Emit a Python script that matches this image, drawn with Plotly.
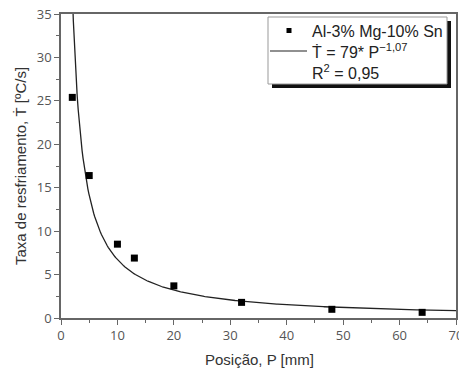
import numpy as np
import plotly.graph_objects as go

# Measured data
posicao = [2, 5, 10, 13, 20, 32, 48, 64]
taxa = [25.4, 16.4, 8.5, 6.9, 3.7, 1.8, 1.0, 0.65]

# Fit parameters shown in the legend
fit_a = 79
fit_b = -1.07
fit_p = np.linspace(1.5, 70, 400)
fit_t = fit_a * fit_p ** fit_b

legend_labels = ["Al-3% Mg-10% Sn", "Ṫ = 79* P<sup>−1,07</sup>", "R<sup>2</sup> = 0,95"]
x_title = "Posição, P [mm]"
y_title = "Taxa de resfriamento, Ṫ [ºC/s]"

fig = go.Figure()
fig.add_trace(go.Scatter(x=fit_p, y=fit_t, mode="lines",
                         line=dict(color="#222", width=1.3), showlegend=False))
fig.add_trace(go.Scatter(x=posicao, y=taxa, mode="markers",
                         marker=dict(symbol="square", size=7, color="#000"), showlegend=False))

axis_common = dict(showline=True, linecolor="#666", linewidth=1.5, mirror=True,
                   ticks="outside", ticklen=5, tickwidth=1.2, tickcolor="#666",
                   showgrid=False, zeroline=False, automargin=False,
                   ticklabeloverflow="allow",
                   tickfont=dict(family="Open Sans", size=13, color="#555"))

fig.update_xaxes(range=[0, 70], tick0=0, dtick=10,
                 minor=dict(ticks="outside", ticklen=3, dtick=5, tickcolor="#666"),
                 **axis_common)
fig.update_yaxes(range=[0, 35], tick0=0, dtick=5,
                 minor=dict(ticks="outside", ticklen=3, dtick=2.5, tickcolor="#666"),
                 **axis_common)

# pixel helpers
W, H = 459, 371
ml, mr, mt, mb = 61, 3, 14, 53
pw, ph = W - ml - mr, H - mt - mb

def px(x):
    return (x - ml) / pw

def py(y):
    return 1 - (y - mt) / ph

# axis titles
fig.add_annotation(xref="paper", yref="paper", x=px(259), y=py(359), text=x_title,
                   showarrow=False, xanchor="center", yanchor="middle",
                   font=dict(family="Liberation Sans", size=15, color="#333"))
fig.add_annotation(xref="paper", yref="paper", x=px(20), y=py(166), text=y_title,
                   showarrow=False, xanchor="center", yanchor="middle", textangle=-90,
                   font=dict(family="Liberation Sans", size=15, color="#333"))

# Legend box with shadow
x0, x1, y0, y1 = 268, 447, 17, 84
fig.add_shape(type="rect", xref="paper", yref="paper",
              x0=px(x0 + 4), x1=px(x1 + 4), y0=py(y1 + 4), y1=py(y0 + 4),
              fillcolor="#111", line=dict(width=0))
fig.add_shape(type="rect", xref="paper", yref="paper",
              x0=px(x0), x1=px(x1), y0=py(y1), y1=py(y0),
              fillcolor="white", line=dict(color="#999", width=1))
fig.add_shape(type="rect", xref="paper", yref="paper",
              x0=px(286.5), x1=px(291.5), y0=py(33), y1=py(28),
              fillcolor="#000", line=dict(width=0))
fig.add_shape(type="line", xref="paper", yref="paper",
              x0=px(270), x1=px(307), y0=py(51), y1=py(51),
              line=dict(color="#222", width=1.2))
for i, lab in enumerate(legend_labels):
    fig.add_annotation(xref="paper", yref="paper", x=px(310), y=py(31 + i * 20.5),
                       text=lab, showarrow=False, xanchor="left", yanchor="middle",
                       font=dict(family="Liberation Sans", size=16, color="#222"))

fig.update_layout(width=W, height=H, margin=dict(l=ml, r=mr, t=mt, b=mb),
                  plot_bgcolor="white", paper_bgcolor="white")
fig.write_html("out.html", config={"displayModeBar": False},
               post_script="document.body.style.margin='0';document.body.style.overflow='hidden';")
